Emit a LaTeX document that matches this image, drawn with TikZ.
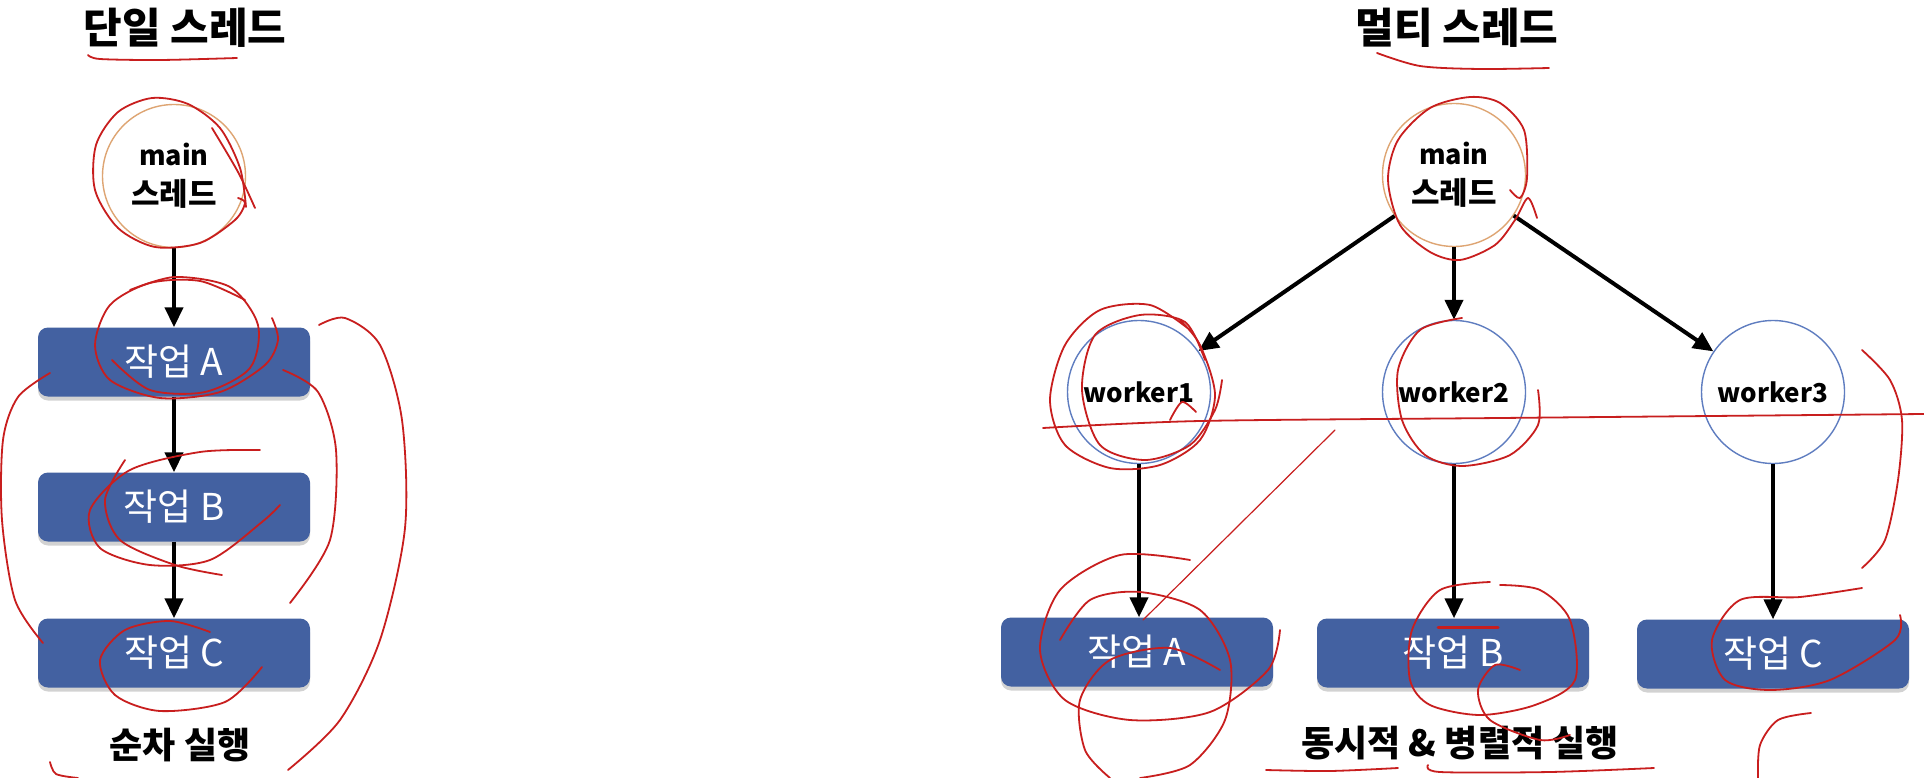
\documentclass[tikz,border=0pt]{standalone}
\usepackage{fontspec}
\setmainfont{Noto Sans CJK KR}
\usetikzlibrary{arrows.meta,shadows}
\definecolor{boxblue}{RGB}{67,97,161}
\definecolor{mainring}{RGB}{222,165,115}
\definecolor{workring}{RGB}{95,125,192}
\definecolor{pen}{RGB}{200,30,30}
\newcommand{\kbig}{\fontsize{31}{40}\selectfont}
\tikzset{
  title/.style={font=\fontsize{42}{50}\selectfont\bfseries, inner sep=0pt},
  caption/.style={font=\fontsize{36}{42}\selectfont\bfseries, inner sep=0pt},
  thread/.style={circle, draw=mainring, line width=1.4pt, minimum size=143pt, inner sep=0pt,
                 align=center, font=\fontsize{27}{40}\selectfont\bfseries},
  worker/.style={circle, draw=workring, line width=1.4pt, minimum size=143pt, inner sep=0pt,
                 font=\fontsize{26}{32}\selectfont\bfseries},
  task/.style={rectangle, rounded corners=10pt, fill=boxblue, text=white,
               minimum width=272pt, minimum height=69pt, inner sep=0pt,
               font=\fontsize{37}{42}\selectfont,
               drop shadow={shadow xshift=0pt, shadow yshift=-4pt, opacity=0.35}},
  arr/.style={line width=4pt, -{Triangle[width=18pt,length=20pt]}},
  ink/.style={draw=pen, line width=1.8pt, line cap=round, line join=round},
}
\begin{document}
\begin{tikzpicture}[x=1pt,y=-1pt]
\useasboundingbox[fill=white] (0,0) rectangle (1924,778);

% ---------- single thread ----------
\node[title] (t1) at (185,28) {단일 스레드};
\node[thread] (m1) at (174,176) {main\\{\kbig 스레드}};
\node[task] (a1) at (174,362) {작업 A};
\node[task] (b1) at (174,507) {작업 B};
\node[task] (c1) at (174,653) {작업 C};
\node[caption] (s1) at (180,745) {순차 실행};
\draw[arr] (m1) -- (a1);
\draw[arr] (a1) -- (b1);
\draw[arr] (b1) -- (c1);

% ---------- multi thread ----------
\node[title] (t2) at (1457,28) {멀티 스레드};
\node[thread] (m2) at (1454,175) {main\\{\kbig 스레드}};
\node[worker] (w1) at (1139,392) {worker1};
\node[worker] (w2) at (1454,392) {worker2};
\node[worker] (w3) at (1773,392) {worker3};
\node[task] (a2) at (1137,652) {작업 A};
\node[task] (b2) at (1453,653) {작업 B};
\node[task] (c2) at (1773,654) {작업 C};
\node[caption] (s2) at (1460,743) {동시적 \& 병렬적 실행};
\draw[arr] (m2) -- (w1);
\draw[arr] (m2) -- (w2);
\draw[arr] (m2) -- (w3);
\draw[arr] (w1.south) -- (a2.north -| w1.south);
\draw[arr] (w2.south) -- (b2.north -| w2.south);
\draw[arr] (w3.south) -- (c2.north -| w3.south);

% ---------- red pen annotations ----------
% left
\draw[ink] plot[smooth] coordinates {(88,55) (100,59) (160,60) (237,58)};
\draw[ink] plot[smooth] coordinates {(246,207) (240,168) (220,128) (188,104) (152,98) (118,112) (96,145) (95,190) (118,228) (155,247) (200,243) (235,220) (245,203) (238,198)};
\draw[ink] plot[smooth] coordinates {(212,128) (238,172) (255,208)};
\draw[ink] plot[smooth] coordinates {(245,300) (200,281) (150,283) (110,305) (95,345) (110,380) (160,398) (220,392) (265,365) (278,340) (272,318)};
\draw[ink] plot[smooth] coordinates {(130,290) (175,277) (230,287) (258,325) (250,368) (205,392) (150,390) (112,360)};
\draw[ink] plot[smooth] coordinates {(260,450) (200,452) (130,470) (90,510) (100,548) (150,565) (210,560) (262,522) (280,505)};
\draw[ink] plot[smooth] coordinates {(125,460) (105,500) (120,540) (175,565) (222,575)};
\draw[ink] plot[smooth] coordinates {(210,632) (170,621) (125,630) (100,660) (115,695) (160,711) (225,702) (262,667)};
\draw[ink] plot[smooth] coordinates {(319,325) (345,318) (380,345) (402,420) (405,528) (380,640) (340,720) (288,770)};
\draw[ink] plot[smooth] coordinates {(283,370) (318,392) (336,450) (330,540) (290,603)};
\draw[ink] plot[smooth] coordinates {(50,373) (18,397) (3,440) (2,520) (15,600) (43,643)};
\draw[ink] plot[smooth] coordinates {(50,762) (56,774) (78,778)};
% right
\draw[ink] plot[smooth] coordinates {(1377,53) (1420,66) (1480,69) (1549,68)};
\draw[ink] plot[smooth] coordinates {(1510,190) (1520,198) (1527,178) (1524,130) (1500,103) (1470,97) (1430,108) (1398,140) (1388,180) (1400,225) (1430,252) (1460,260) (1495,245) (1515,220) (1528,198) (1537,218)};
\draw[ink] plot[smooth] coordinates {(1190,330) (1150,305) (1100,310) (1065,345) (1050,400) (1065,445) (1110,468) (1160,465) (1200,440) (1215,395) (1200,345) (1180,320)};
\draw[ink] plot[smooth] coordinates {(1205,360) (1185,322) (1140,315) (1095,335) (1082,390) (1100,445) (1145,460) (1190,445) (1215,410) (1222,380)};
\draw[ink] plot[smooth] coordinates {(1170,420) (1182,402) (1196,412)};
\draw[ink] plot[smooth] coordinates {(1462,318) (1420,330) (1398,370) (1402,420) (1425,455) (1462,466) (1510,455) (1538,425) (1538,390)};
\draw[ink] plot[smooth] coordinates {(1043,428) (1200,421) (1500,418) (1924,414)};
\draw[ink, line width=1.2pt] (1335,430) -- (1143,620);
\draw[ink] plot[smooth] coordinates {(1862,350) (1890,380) (1902,420) (1898,480) (1885,540) (1862,568)};
\draw[ink] plot[smooth] coordinates {(1862,588) (1800,597) (1740,600) (1712,640) (1725,680) (1770,690) (1830,680) (1895,640) (1900,615)};
\draw[ink] plot[smooth] coordinates {(1811,713) (1778,720) (1760,745) (1758,778)};
\draw[ink] plot[smooth] coordinates {(1190,560) (1120,555) (1060,590) (1040,650) (1065,700) (1130,720) (1210,712) (1268,670) (1280,630)};
\draw[ink] plot[smooth] coordinates {(1060,640) (1090,600) (1140,592) (1200,610) (1230,660) (1225,720) (1190,765) (1140,778)};
\draw[ink] plot[smooth] coordinates {(1220,670) (1170,648) (1110,660) (1080,700) (1085,750) (1110,778)};
\draw[ink] plot[smooth] coordinates {(1490,582) (1440,590) (1412,630) (1410,680) (1430,705) (1480,715) (1535,705) (1575,680) (1570,620) (1540,590) (1500,585)};
\draw[ink, line width=3pt] (1438,627) -- (1498,627);
\draw[ink] plot[smooth] coordinates {(1520,670) (1495,665) (1478,690) (1490,720) (1540,740) (1570,735)};
\draw[ink] plot[smooth] coordinates {(1266,770) (1330,771) (1398,768)};
\draw[ink] plot[smooth] coordinates {(1428,765) (1440,772) (1550,772) (1654,768)};
\end{tikzpicture}
\end{document}
